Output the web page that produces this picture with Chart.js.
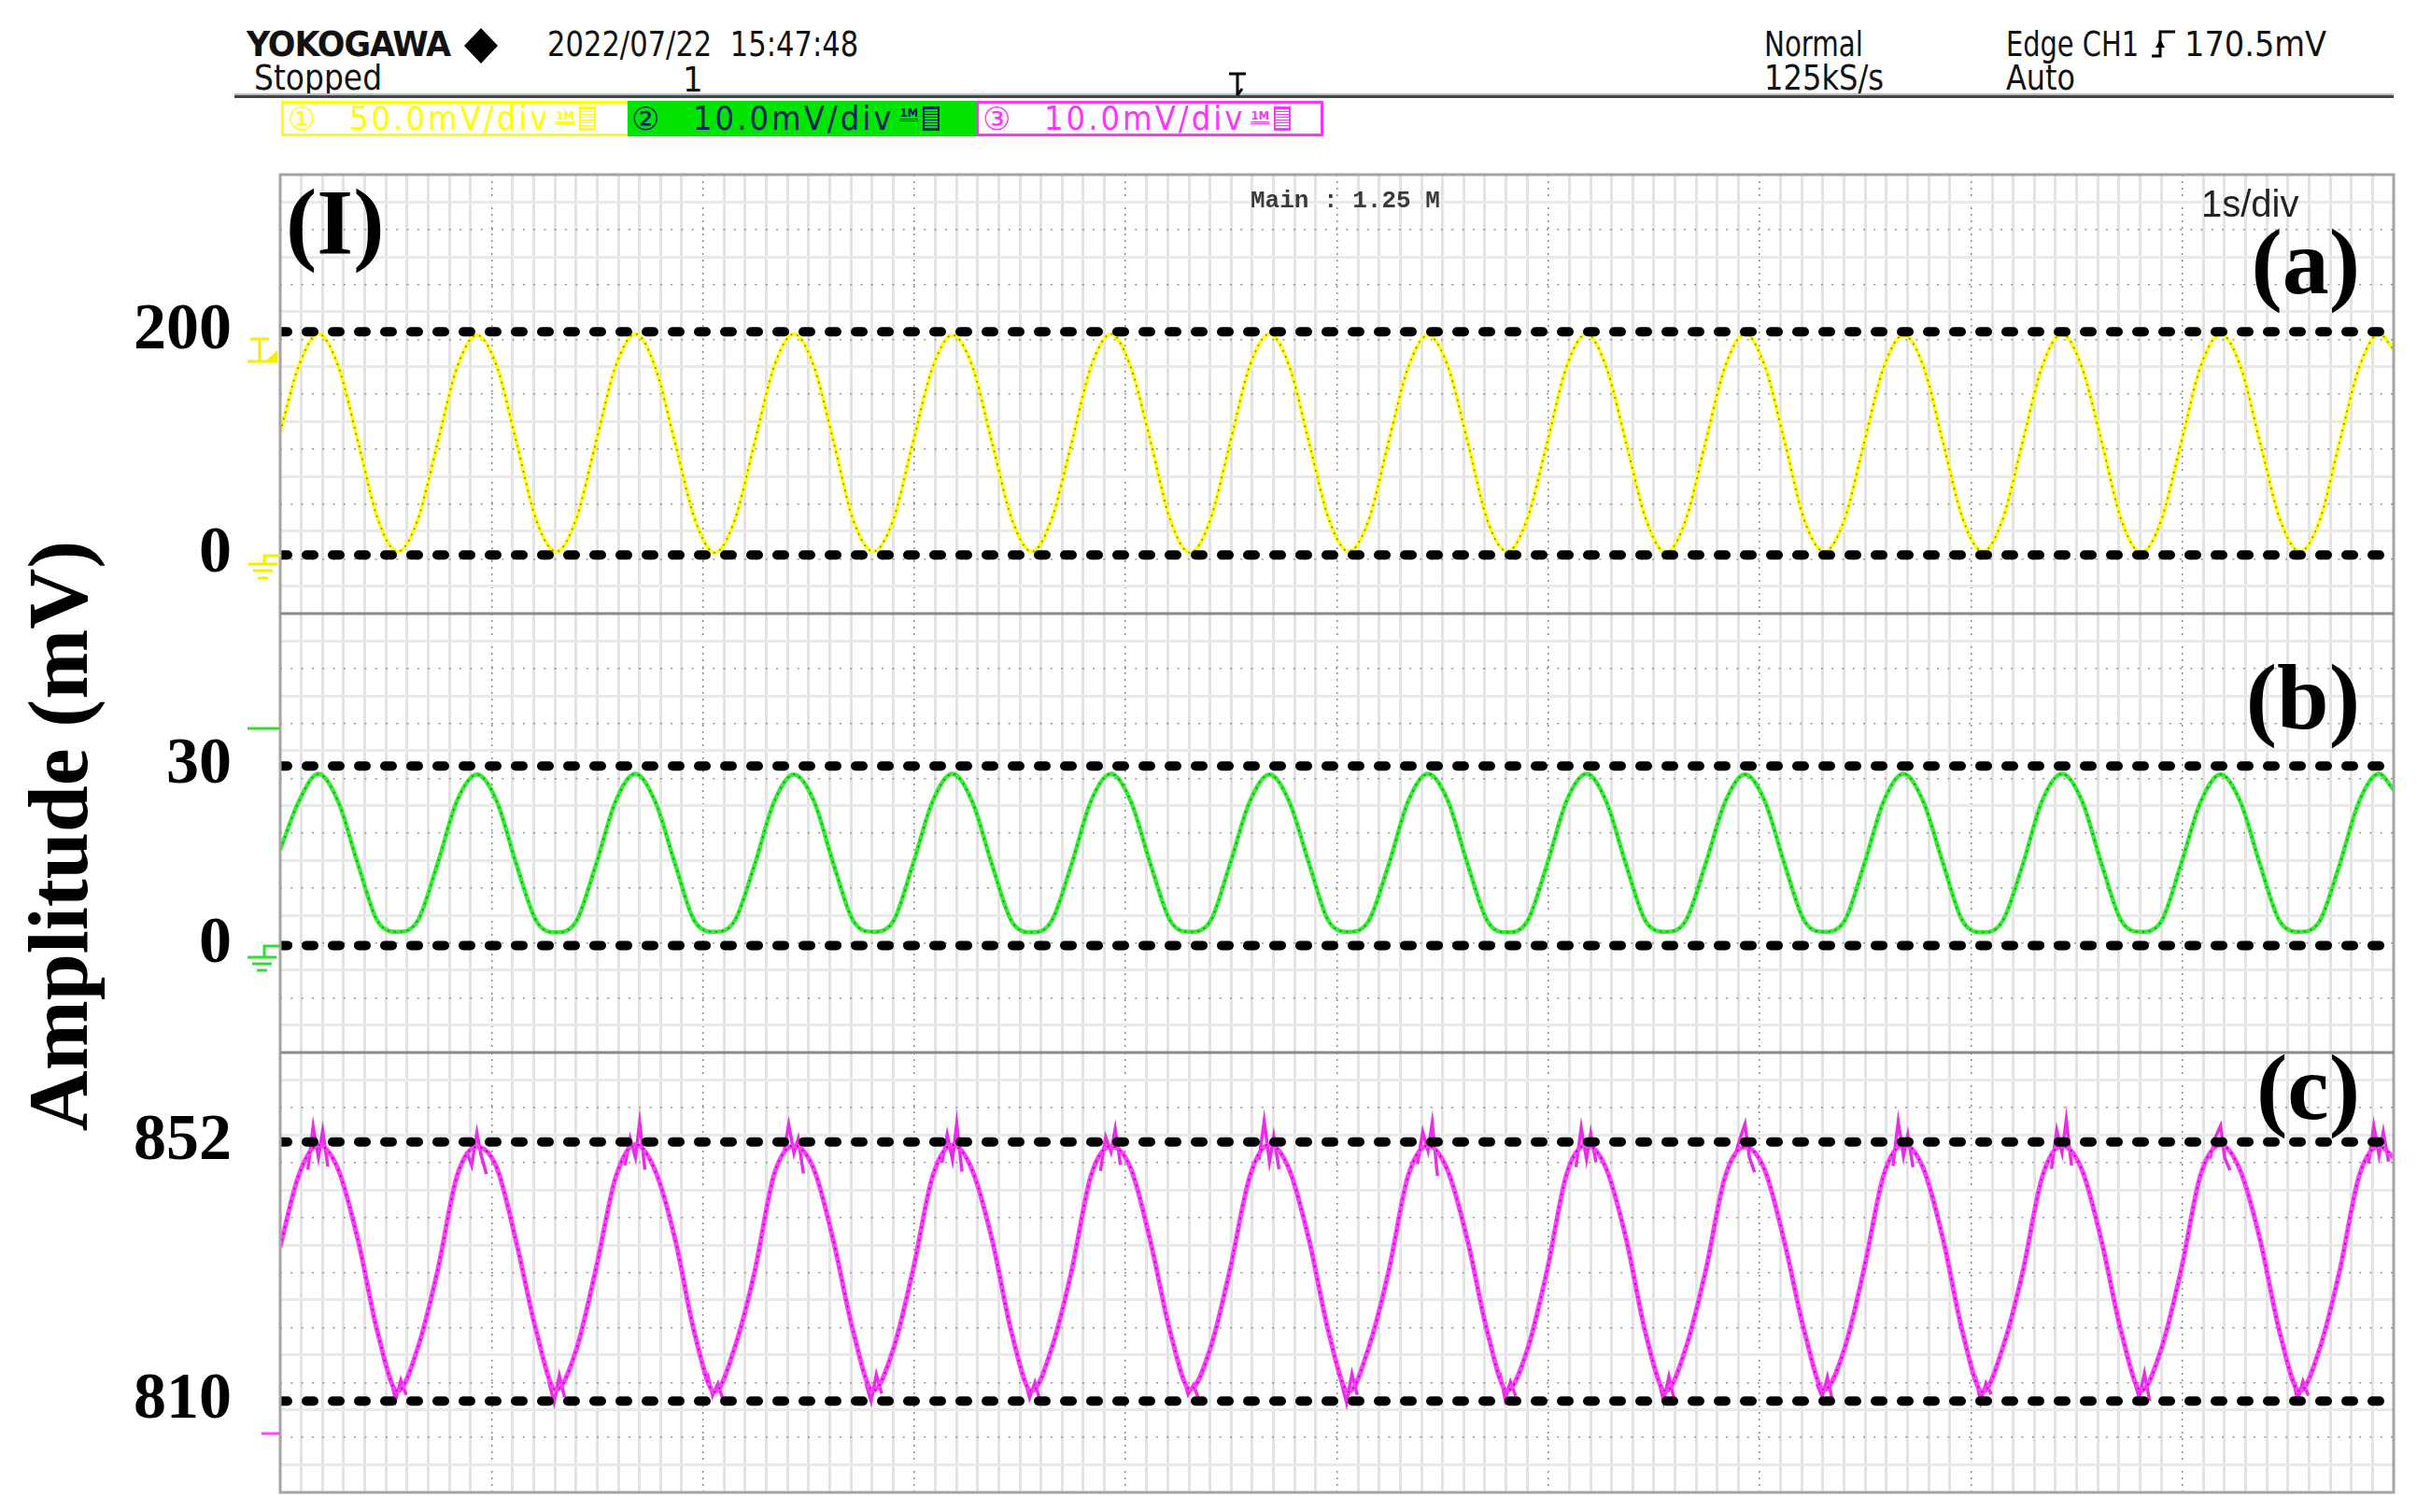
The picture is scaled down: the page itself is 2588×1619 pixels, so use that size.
<!DOCTYPE html>
<html lang="en">
<head>
<meta charset="utf-8">
<title>YOKOGAWA capture - three channels</title>
<script src="https://cdn.jsdelivr.net/npm/chart.js@4.4.1/dist/chart.umd.min.js"></script>
<style>
  html, body { margin: 0; padding: 0; background: #fff; }
  #page { position: relative; width: 2588px; height: 1619px; overflow: hidden; background: #fff; }
  canvas { position: absolute; left: 0; z-index: 1; }
  .t { position: absolute; white-space: pre; line-height: 1; z-index: 5; }
  .narrow { font-family: "Liberation Sans Narrow", "Arial Narrow", "DejaVu Sans Condensed", sans-serif; font-size: 38px; color: #111; transform-origin: 0 0; }
  .serif { font-family: "Liberation Serif", "Times New Roman", serif; font-weight: bold; color: #000; font-size: 100px; }
  .chbox { position: absolute; top: 108px; height: 38px; box-sizing: border-box; display: flex; align-items: center; z-index: 5;
           font-family: "Liberation Sans Narrow", "DejaVu Sans Condensed", sans-serif; font-size: 36px; line-height: 1; white-space: pre; }
  .chbox .num { font-family: "DejaVu Sans", "Noto Sans CJK JP", sans-serif; font-size: 34px; margin-left: 4px; width: 38px; }
  .chbox .val { margin-left: 28px; letter-spacing: 3px; }
  .chbox .m1 { font-size: 13px; font-weight: bold; margin-left: 6px; border-bottom: 3px double currentColor; align-self: flex-start; margin-top: 6px; }
  .chbox .hb { width: 14px; height: 22px; margin-left: 5px; border: 2px solid currentColor;
               background: repeating-linear-gradient(0deg, currentColor 0 1px, transparent 1px 3px); }
  #deco { position: absolute; left: 0; top: 0; z-index: 6; pointer-events: none; }
</style>
</head>
<body>
<div id="page">
  <canvas id="panelA" width="2563" height="470" style="top:187px"></canvas>
  <canvas id="panelB" width="2563" height="470" style="top:657px"></canvas>
  <canvas id="panelC" width="2563" height="471" style="top:1127px"></canvas>

  <!-- instrument header -->
  <div class="t narrow fit" data-w="218" style="left:264px;top:28px;font-weight:bold;letter-spacing:-1px">YOKOGAWA</div>
  <div class="t narrow fit" data-w="333" style="left:586px;top:28px">2022/07/22  15:47:48</div>
  <div class="t narrow fit" data-w="137" style="left:272px;top:64px">Stopped</div>
  <div class="t narrow" style="left:731px;top:66px">1</div>
  <div class="t narrow fit" data-w="106" style="left:1889px;top:28px">Normal</div>
  <div class="t narrow fit" data-w="128" style="left:1889px;top:64px">125kS/s</div>
  <div class="t narrow fit" data-w="142" style="left:2148px;top:28px">Edge CH1</div>
  <div class="t narrow fit" data-w="152" style="left:2339px;top:28px">170.5mV</div>
  <div class="t narrow fit" data-w="74" style="left:2148px;top:64px">Auto</div>

  <div class="chbox" style="left:301px;width:371px;border:3px solid #ffff00;border-right:none;color:#ffff00">
    <span class="num">①</span><span class="val">50.0mV/div</span><span class="m1">1M</span><span class="hb"></span>
  </div>
  <div class="chbox" style="left:672px;width:373px;background:#00e400;color:#0b2560">
    <span class="num">②</span><span class="val">10.0mV/div</span><span class="m1">1M</span><span class="hb"></span>
  </div>
  <div class="chbox" style="left:1045px;width:372px;border:3px solid #ff33ff;color:#ff33ff">
    <span class="num">③</span><span class="val">10.0mV/div</span><span class="m1">1M</span><span class="hb"></span>
  </div>

  <!-- annotations on the screen -->
  <div class="t" style="left:1339px;top:202px;font-family:'Liberation Mono',monospace;font-weight:bold;font-size:26px;color:#3a3a3a">Main : 1.25 M</div>
  <div class="t" style="left:2357px;top:198px;font-family:'Liberation Sans',sans-serif;font-size:40px;color:#222">1s/div</div>
  <div class="t serif" style="left:306px;top:188px">(I)</div>
  <div class="t serif" style="right:61px;top:231px">(a)</div>
  <div class="t serif" style="right:61px;top:697px">(b)</div>
  <div class="t serif" style="right:61px;top:1115px">(c)</div>
  <div class="t serif" style="left:63px;top:895px;font-size:90px;transform:translate(-50%,-50%) rotate(-90deg)">Amplitude (mV)</div>

  <svg id="deco" width="2588" height="1619">
    <rect x="251" y="100" width="2312" height="2" fill="#bbb"/>
    <rect x="251" y="102" width="2312" height="3" fill="#444"/>
    <polygon points="515,30 533,49 515,68 497,49" fill="#000"/>
    <path d="M1316,79 H1334 M1325,79 V102 M1325,102 l5,-7" stroke="#000" stroke-width="3" fill="none"/>
    <path d="M2304,60 H2313 V34 H2329" stroke="#000" stroke-width="3" fill="none"/>
    <path d="M2308,51 L2313,42 L2318,51 Z" fill="#000"/>
    <!-- plot frame and zone separators -->
    <rect x="300" y="187" width="2263" height="1411" fill="none" stroke="#a4a4a4" stroke-width="3"/>
    <line x1="300" y1="657" x2="2563" y2="657" stroke="#8a8a8a" stroke-width="3"/>
    <line x1="300" y1="1127" x2="2563" y2="1127" stroke="#8a8a8a" stroke-width="3"/>
    <!-- channel markers -->
    <path d="M268,363 H288 M278,363 V386 M265,387 H297" stroke="#f4f000" stroke-width="3" fill="none"/>
    <polygon points="285,386 297,386 297,375" fill="#f4f000"/>
    <path d="M300,595 H283 V604 M266,604 H297 M271,611 H292 M276,619 H287" stroke="#f4f000" stroke-width="3" fill="none"/>
    <path d="M265,780 H299" stroke="#33dd33" stroke-width="3"/>
    <path d="M300,1013 H283 V1025 M265,1025 H296 M270,1032 H291 M275,1039 H286" stroke="#33dd33" stroke-width="3" fill="none"/>
    <path d="M280,1535 H299" stroke="#ff44ff" stroke-width="3"/>
  </svg>
</div>

<script>
// sample times in seconds (1 s/div, 10 div)
const times = [
  0, 0.087,
  0.181, 0.275, 0.369, 0.462, 0.556, 0.650, 0.744, 0.837,
  0.931, 1.025, 1.119, 1.212, 1.306, 1.400, 1.494, 1.587,
  1.681, 1.775, 1.869, 1.962, 2.056, 2.150, 2.244, 2.337,
  2.431, 2.525, 2.619, 2.712, 2.806, 2.900, 2.994, 3.087,
  3.181, 3.275, 3.369, 3.462, 3.556, 3.650, 3.744, 3.837,
  3.931, 4.025, 4.119, 4.212, 4.306, 4.400, 4.494, 4.587,
  4.681, 4.775, 4.869, 4.962, 5.056, 5.150, 5.244, 5.337,
  5.431, 5.525, 5.619, 5.712, 5.806, 5.900, 5.994, 6.087,
  6.181, 6.275, 6.369, 6.462, 6.556, 6.650, 6.744, 6.837,
  6.931, 7.025, 7.119, 7.212, 7.306, 7.400, 7.494, 7.587,
  7.681, 7.775, 7.869, 7.962, 8.056, 8.150, 8.244, 8.337,
  8.431, 8.525, 8.619, 8.712, 8.806, 8.900, 8.994, 9.087,
  9.181, 9.275, 9.369, 9.462, 9.556, 9.650, 9.744, 9.837,
  9.931, 10
];

// CH1 (yellow), mV
const ch1Values = [
  110, 169,
  198, 169, 101, 32, 3, 31, 100, 168,
  197, 169, 100, 31, 3, 32, 101, 169,
  198, 168, 100, 32, 2, 31, 100, 169,
  198, 169, 101, 31, 3, 31, 101, 168,
  197, 169, 100, 32, 3, 32, 100, 169,
  198, 168, 101, 31, 2, 31, 100, 169,
  198, 169, 100, 32, 3, 31, 101, 168,
  197, 169, 101, 31, 3, 32, 100, 169,
  198, 168, 100, 32, 2, 31, 101, 169,
  198, 169, 101, 31, 3, 31, 100, 168,
  197, 169, 100, 32, 3, 32, 101, 169,
  198, 168, 101, 31, 2, 31, 100, 169,
  198, 169, 100, 32, 3, 31, 101, 168,
  198, 184
];

// CH2 (green), mV
const ch2Values = [
  16, 24,
  28.7, 24.0, 13.5, 4.0, 2.3, 4.1, 13.6, 24.2,
  28.6, 24.1, 13.4, 4.1, 2.2, 4.0, 13.5, 24.1,
  28.7, 24.0, 13.6, 4.0, 2.3, 4.1, 13.4, 24.0,
  28.6, 24.2, 13.5, 4.1, 2.3, 4.0, 13.6, 24.1,
  28.7, 24.0, 13.4, 4.0, 2.2, 4.1, 13.5, 24.2,
  28.7, 24.1, 13.5, 4.1, 2.3, 4.0, 13.6, 24.0,
  28.6, 24.0, 13.6, 4.0, 2.3, 4.1, 13.4, 24.1,
  28.7, 24.2, 13.5, 4.1, 2.2, 4.0, 13.5, 24.2,
  28.7, 24.0, 13.4, 4.0, 2.3, 4.1, 13.6, 24.0,
  28.6, 24.1, 13.5, 4.1, 2.3, 4.0, 13.5, 24.1,
  28.7, 24.0, 13.6, 4.0, 2.2, 4.1, 13.4, 24.2,
  28.7, 24.2, 13.5, 4.1, 2.3, 4.0, 13.6, 24.0,
  28.6, 24.0, 13.4, 4.0, 2.3, 4.1, 13.5, 24.1,
  28.7, 26.0
];

// CH3 (magenta), mV
const ch3Values = [
  835, 846.5,
  851.5, 847.5, 836.0, 821.0, 811.6, 818.5, 831.0, 846.5,
  851.2, 847.8, 835.5, 821.3, 811.8, 818.2, 831.4, 846.2,
  851.6, 847.3, 836.2, 820.8, 811.5, 818.6, 830.8, 846.7,
  851.4, 847.6, 835.8, 821.2, 811.7, 818.3, 831.2, 846.4,
  851.5, 847.4, 836.1, 820.9, 811.6, 818.5, 831.0, 846.6,
  851.3, 847.7, 835.7, 821.1, 811.9, 818.4, 831.3, 846.3,
  851.6, 847.5, 836.0, 821.0, 811.5, 818.6, 830.9, 846.5,
  851.4, 847.3, 835.9, 821.2, 811.7, 818.2, 831.1, 846.8,
  851.5, 847.6, 836.2, 820.8, 811.6, 818.5, 831.0, 846.4,
  851.2, 847.4, 835.6, 821.3, 811.8, 818.3, 831.4, 846.6,
  851.6, 847.7, 836.1, 820.9, 811.5, 818.6, 830.8, 846.3,
  851.4, 847.5, 835.8, 821.1, 811.7, 818.4, 831.2, 846.7,
  851.5, 847.3, 836.0, 821.0, 811.6, 818.5, 831.0, 846.5,
  851.3, 849.5
];

// CH3 noise bursts near the crests (null = break)
const ch3SpikeTimes = [
  0.131, 0.156, 0.181, 0.201, 0.226, 0.227,
  0.881, 0.906, 0.931, 0.951, 0.976, 0.977,
  1.631, 1.656, 1.681, 1.701, 1.726, 1.727,
  2.381, 2.406, 2.431, 2.451, 2.476, 2.477,
  3.131, 3.156, 3.181, 3.201, 3.226, 3.227,
  3.881, 3.906, 3.931, 3.951, 3.976, 3.977,
  4.631, 4.656, 4.681, 4.701, 4.726, 4.727,
  5.381, 5.406, 5.431, 5.451, 5.476, 5.477,
  6.131, 6.156, 6.181, 6.201, 6.226, 6.227,
  6.881, 6.906, 6.931, 6.951, 6.976, 6.977,
  7.631, 7.656, 7.681, 7.701, 7.726, 7.727,
  8.381, 8.406, 8.431, 8.451, 8.476, 8.477,
  9.131, 9.156, 9.181, 9.201, 9.226, 9.227,
  9.881, 9.906, 9.931, 9.951, 9.976, 9.977
];
const ch3SpikeValues = [
  847.5, 854.5, 849.5, 853.8, 848.0, null,
  850.5, 848.2, 853.5, 849.8, 846.8, null,
  848.2, 852.6, 849.5, 855.2, 847.5, null,
  849.8, 854.8, 850.2, 852.5, 846.9, null,
  848.6, 853.2, 849.1, 855.0, 847.2, null,
  847.3, 852.8, 850.4, 854.1, 848.3, null,
  849.1, 855.4, 848.8, 852.9, 847.6, null,
  848.4, 853.6, 850.6, 855.1, 846.5, null,
  847.9, 854.3, 849.2, 853.4, 848.7, null,
  849.5, 852.4, 854.9, 849.6, 847.1, null,
  848.1, 855.3, 849.7, 853.1, 847.9, null,
  847.6, 853.9, 850.3, 855.6, 848.2, null,
  849.3, 852.7, 854.6, 849.4, 847.4, null,
  848.5, 854.6, 849.8, 853.6, 848.8, null
];

// CH3 noise near the troughs
const ch3DipTimes = [
  0.521, 0.546, 0.571, 0.596, 0.597,
  1.271, 1.296, 1.321, 1.346, 1.347,
  2.021, 2.046, 2.071, 2.096, 2.097,
  2.771, 2.796, 2.821, 2.846, 2.847,
  3.521, 3.546, 3.571, 3.596, 3.597,
  4.271, 4.296, 4.321, 4.346, 4.347,
  5.021, 5.046, 5.071, 5.096, 5.097,
  5.771, 5.796, 5.821, 5.846, 5.847,
  6.521, 6.546, 6.571, 6.596, 6.597,
  7.271, 7.296, 7.321, 7.346, 7.347,
  8.021, 8.046, 8.071, 8.096, 8.097,
  8.771, 8.796, 8.821, 8.846, 8.847,
  9.521, 9.546, 9.571, 9.596, 9.597
];
const ch3DipValues = [
  814.0, 810.2, 813.4, 811.0, null,
  813.2, 809.8, 814.1, 810.6, null,
  814.5, 810.9, 812.8, 810.1, null,
  812.9, 810.0, 814.3, 811.2, null,
  813.8, 810.5, 813.0, 809.9, null,
  814.2, 811.1, 812.6, 810.4, null,
  813.0, 809.7, 814.4, 811.0, null,
  814.6, 810.3, 813.1, 810.8, null,
  813.5, 810.0, 814.0, 810.2, null,
  812.8, 810.7, 813.9, 809.8, null,
  814.1, 809.9, 812.9, 811.1, null,
  813.4, 810.6, 814.5, 810.0, null,
  814.0, 810.1, 813.2, 810.9, null
];

// levels marked with dashed lines and labelled on the left
const levelsA = [0, 200];
const levelsB = [0, 30];
const levelsC = [810, 852];

function toPoints(xs, ys) {
  return xs.map((x, i) => ({ x: x, y: ys[i] }));
}

function levelLine(v) {
  return {
    data: [{ x: 0, y: v }, { x: 10, y: v }],
    borderColor: '#000', borderWidth: 10, borderDash: [8, 20], borderCapStyle: 'round',
    pointRadius: 0, order: 0
  };
}

function traceSets(xs, ys, color, width, speck) {
  return [
    { data: toPoints(xs, ys), borderColor: speck, borderWidth: 1.8, borderDash: [2, 5],
      pointRadius: 0, cubicInterpolationMode: 'monotone', order: 1 },
    { data: toPoints(xs, ys), borderColor: color, borderWidth: width,
      pointRadius: 0, cubicInterpolationMode: 'monotone', order: 2 }
  ];
}

function makePanel(id, yMin, yMax, levels, datasets) {
  levels.forEach(v => datasets.push(levelLine(v)));
  // every dataset goes on the time axis and the value axis, never on the grid axes
  datasets.forEach(d => { d.xAxisID = 'x'; d.yAxisID = 'y'; });
  new Chart(document.getElementById(id), {
    type: 'line',
    data: { datasets: datasets },
    options: {
      responsive: false,
      animation: false,
      events: [],
      layout: { padding: 0 },
      plugins: { legend: { display: false }, tooltip: { enabled: false } },
      scales: {
        x: { type: 'linear', min: 0, max: 10, display: false },
        y: {
          type: 'linear', position: 'left', min: yMin, max: yMax,
          afterBuildTicks: s => { s.ticks = levels.map(v => ({ value: v })); },
          afterFit: s => { s.width = 300; s.paddingTop = 0; s.paddingBottom = 0; },
          ticks: { color: '#000', padding: 52, font: { family: 'Liberation Serif', size: 70, weight: 'bold' } },
          grid: { display: false, drawTicks: false },
          border: { display: false }
        },
        gx: {
          type: 'linear', position: 'bottom', min: 0, max: 100,
          afterBuildTicks: s => { s.ticks = []; for (let i = 0; i <= 100; i++) s.ticks.push({ value: i }); },
          afterFit: s => { s.height = 0; },
          ticks: { display: false },
          grid: {
            drawTicks: false,
            color: c => c.tick.value % 10 === 0 ? '#8c8c8c' : '#e3e3e3',
            lineWidth: c => c.tick.value % 10 === 0 ? 1.5 : 3
          },
          border: { display: false, dash: c => (c.tick && c.tick.value % 10 === 0) ? [2, 5] : [] }
        },
        gy: {
          type: 'linear', position: 'left', min: 0, max: 16,
          afterBuildTicks: s => { s.ticks = []; for (let i = 0; i <= 16; i++) s.ticks.push({ value: i }); },
          afterFit: s => { s.width = 0; },
          ticks: { display: false },
          grid: {
            drawTicks: false,
            color: c => (c.tick.value === 0 || c.tick.value === 16) ? 'rgba(0,0,0,0)' : (c.tick.value % 2 === 0 ? '#959595' : '#e9e9e9'),
            lineWidth: c => c.tick.value % 2 === 0 ? 1.5 : 3
          },
          border: { display: false, dash: c => (c.tick && c.tick.value % 2 === 0) ? [2, 9.3] : [] }
        }
      }
    }
  });
}

makePanel('panelA', -52.5, 340.7, levelsA, traceSets(times, ch1Values, '#ffff1a', 4, 'rgba(70,70,40,0.6)'));
makePanel('panelB', -17.9, 55.5, levelsB, traceSets(times, ch2Values, '#33ee33', 4.5, 'rgba(30,70,30,0.55)'));

const panelCSets = traceSets(times, ch3Values, '#ff3cff', 5, 'rgba(70,10,70,0.6)');
panelCSets.push({ data: toPoints(ch3SpikeTimes, ch3SpikeValues), borderColor: '#e52ee5', borderWidth: 3.5,
                  pointRadius: 0, tension: 0, order: 2 });
panelCSets.push({ data: toPoints(ch3DipTimes, ch3DipValues), borderColor: '#e52ee5', borderWidth: 3.5,
                  pointRadius: 0, tension: 0, order: 2 });
makePanel('panelC', 795.2, 866.5, levelsC, panelCSets);

// squeeze header texts to the widths they take on the screen capture
document.querySelectorAll('.fit').forEach(el => {
  const w = el.getBoundingClientRect().width;
  const target = parseFloat(el.dataset.w);
  if (w > 0) el.style.transform = 'scaleX(' + (target / w).toFixed(3) + ')';
});
</script>
</body>
</html>
